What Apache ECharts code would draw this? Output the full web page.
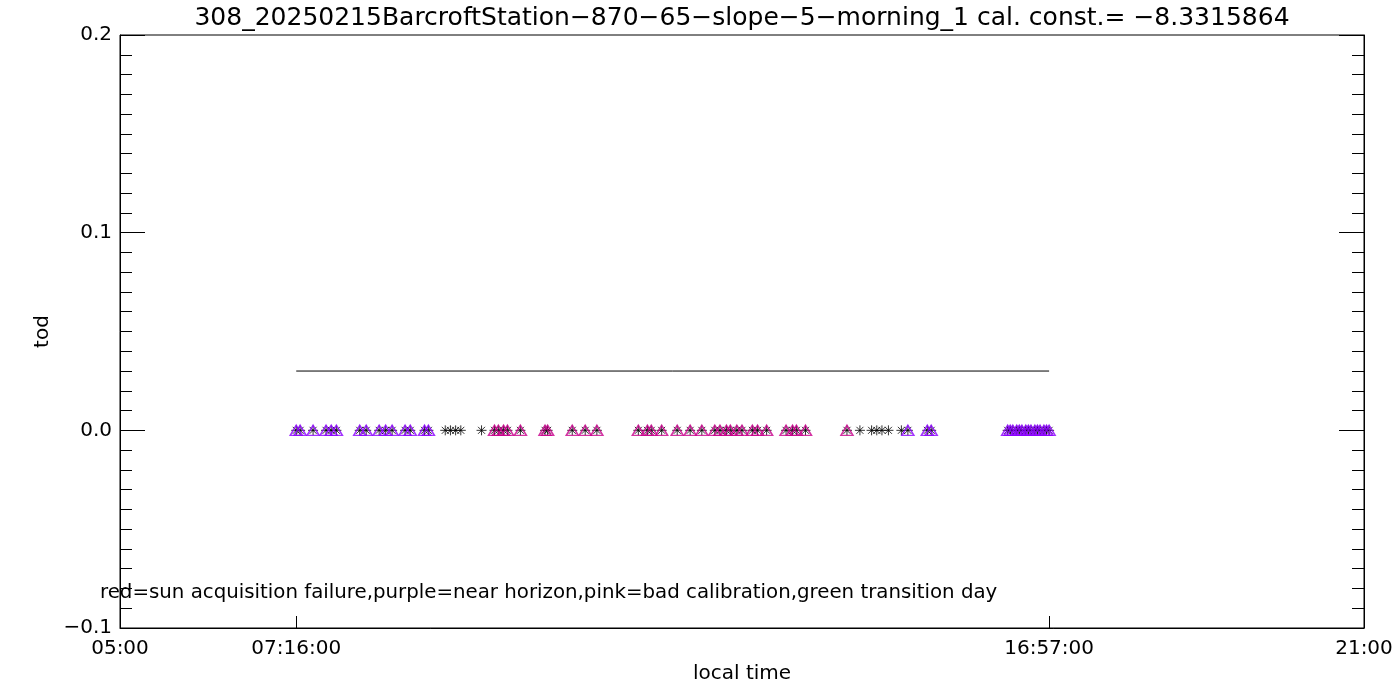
<!DOCTYPE html>
<html>
<head>
<meta charset="utf-8">
<script src="https://cdn.jsdelivr.net/npm/echarts@6/dist/echarts.min.js"></script>
<style>
html,body{margin:0;padding:0;background:#fff;}
#chart{width:1400px;height:700px;}
</style>
</head>
<body>
<div id="chart"></div>
<script>
// ---- data ----
const titleText = '308_20250215BarcroftStation\u2212870\u221265\u2212slope\u22125\u2212morning_1 cal. const.= \u22128.3315864';
const noteText = 'red=sun acquisition failure,purple=near horizon,pink=bad calibration,green transition day';
const xTickLabels = ['05:00', '07:16:00', '16:57:00', '21:00'];
const yTicks = [-0.1, 0.0, 0.1, 0.2];

const times = ['07:16','07:19','07:29','07:39','07:43','07:47','08:05','08:10','08:20','08:25','08:30','08:40','08:44','08:55','08:58',
  '09:11','09:15','09:19','09:23','09:39',
  '09:49','09:52','09:56','09:59','10:09','10:28','10:30','10:49','10:59','11:08','11:40','11:47','11:50','11:58','12:10','12:20','12:29','12:39','12:43','12:48','12:51','12:56','13:00','13:08','13:12','13:19','13:34','13:39','13:42','13:49','14:21',
  '14:31','14:40','14:44','14:48','14:53','15:03',
  '15:08','15:23','15:26','16:25','16:27','16:29','16:32','16:34','16:36','16:39','16:41','16:43','16:46','16:48','16:50','16:53','16:55','16:57'];
const tod = [0,0,0,0,0,0,0,0,0,0,0,0,0,0,0,
  0,0,0,0,0,
  0,0,0,0,0,0,0,0,0,0,0,0,0,0,0,0,0,0,0,0,0,0,0,0,0,0,0,0,0,0,0,
  0,0,0,0,0,0,
  0,0,0,0,0,0,0,0,0,0,0,0,0,0,0,0,0,0];
// flag: 'n' none, 'p' purple (near horizon), 'k' pink (bad calibration)
const flags = ['p','p','p','p','p','p','p','p','p','p','p','p','p','p','p',
  'n','n','n','n','n',
  'k','k','k','k','k','k','k','k','k','k','k','k','k','k','k','k','k','k','k','k','k','k','k','k','k','k','k','k','k','k','k',
  'n','n','n','n','n','n',
  'p','p','p','p','p','p','p','p','p','p','p','p','p','p','p','p','p','p'];
const lineTimes = ['07:16', '16:57'];
const lineValues = [0.03, 0.03];

// ---- helpers ----
function toHours(s){ const p = s.split(':').map(Number); return p[0] + p[1]/60 + (p[2]||0)/3600; }
const xTickValues = xTickLabels.map(toHours);

const allPts = times.map((t,i)=>[toHours(t), tod[i]]);
const purplePts = times.map((t,i)=>flags[i]==='p' ? [toHours(t), tod[i]] : null).filter(Boolean);
const pinkPts = times.map((t,i)=>flags[i]==='k' ? [toHours(t), tod[i]] : null).filter(Boolean);
const linePts = lineTimes.map((t,i)=>[toHours(t), lineValues[i]]);

const asterisk = 'path://M0,5L10,5M5,0L5,10M1.5,1.5L8.5,8.5M8.5,1.5L1.5,8.5';
const triangle = 'path://M6,0L12,10L0,10Z';
const font = 'DejaVu Sans';

const chart = echarts.init(document.getElementById('chart'), null, {renderer:'canvas'});
chart.setOption({
  animation: false,
  backgroundColor: '#fff',
  grid: {left:120, right:36, top:35, bottom:72, show:true, borderColor:'#000', borderWidth:1, containLabel:false},
  graphic: [
    {type:'text', x:742, y:18, style:{text:titleText, font:'25px "DejaVu Sans"', fill:'#000', textAlign:'center', textVerticalAlign:'middle'}},
    {type:'text', x:100, y:593, style:{text:noteText, font:'19.8px "DejaVu Sans"', fill:'#000', textAlign:'left', textVerticalAlign:'middle'}}
  ],
  xAxis: {
    type:'value', min:5, max:21,
    name:'local time', nameLocation:'middle', nameGap:35,
    nameTextStyle:{fontFamily:font, fontSize:20, color:'#000'},
    axisLine:{show:true, onZero:false, lineStyle:{color:'#000', width:1}},
    axisTick:{show:true, inside:true, length:12, customValues:xTickValues, lineStyle:{color:'#000'}},
    axisLabel:{show:true, customValues:xTickValues, margin:11, fontFamily:font, fontSize:20, color:'#000',
      formatter:(v)=>{ let best=0; xTickValues.forEach((tv,i)=>{ if(Math.abs(tv-v)<Math.abs(xTickValues[best]-v)) best=i; }); return xTickLabels[best]; }},
    splitLine:{show:false}
  },
  yAxis: [{
    type:'value', min:-0.1, max:0.2, interval:0.1, position:'left',
    name:'tod', nameLocation:'middle', nameGap:67, nameRotate:90,
    nameTextStyle:{fontFamily:font, fontSize:20, color:'#000'},
    axisLine:{show:true, onZero:false, lineStyle:{color:'#000', width:1}},
    axisTick:{show:true, inside:true, length:25, lineStyle:{color:'#000'}},
    minorTick:{show:true, splitNumber:10, length:12, lineStyle:{color:'#000'}},
    axisLabel:{fontFamily:font, fontSize:20, color:'#000', margin:8,
      formatter:(v)=>{ const s=v.toFixed(1); return s.replace('-','\u2212'); }},
    splitLine:{show:false}
  },{
    type:'value', min:-0.1, max:0.2, interval:0.1, position:'right',
    axisLine:{show:true, onZero:false, lineStyle:{color:'#000', width:1}},
    axisTick:{show:true, inside:true, length:25, lineStyle:{color:'#000'}},
    minorTick:{show:true, splitNumber:10, length:12, lineStyle:{color:'#000'}},
    axisLabel:{show:false},
    splitLine:{show:false}
  }],
  series: [
    {type:'line', data:linePts, symbol:'none', lineStyle:{color:'#000', width:1}, silent:true},
    {type:'scatter', data:allPts, symbol:asterisk, symbolSize:10,
      itemStyle:{color:'rgba(0,0,0,0)', borderColor:'#000', borderWidth:1}, silent:true},
    {type:'scatter', data:purplePts, symbol:triangle, symbolSize:[12,10], symbolOffset:[0,0],
      itemStyle:{color:'rgba(0,0,0,0)', borderColor:'#8c00ff', borderWidth:1.5}, silent:true},
    {type:'scatter', data:pinkPts, symbol:triangle, symbolSize:[12,10], symbolOffset:[0,0],
      itemStyle:{color:'rgba(0,0,0,0)', borderColor:'#c8008c', borderWidth:1.5}, silent:true}
  ]
});
</script>
</body>
</html>
